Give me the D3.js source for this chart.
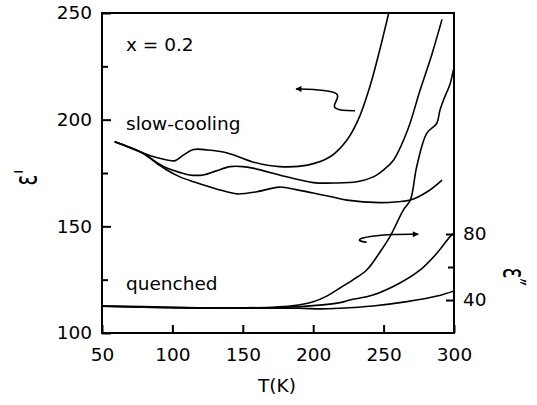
<!DOCTYPE html>
<meta charset="utf-8">
<script src="https://d3js.org/d3.v7.min.js"></script>
<body>
<div id="chart"></div>
<style>
 body { margin: 0; background: #fff; }
 text { font-family: "DejaVu Sans", sans-serif; fill: #000; }
</style>
<script>

// slow-cooled sample, three curves (T in K, eps')
var tempA = [59, 70, 79, 90, 97, 102, 108, 115, 125, 139, 157, 176, 196, 212, 224, 232, 240, 247, 254]
var epsA  = [189.7, 187, 184.4, 182, 181, 180.8, 183.5, 186, 185.8, 184.4, 180.2, 178, 178.7, 182.6, 190.5, 200, 215, 232, 251]

var tempB = [59, 70, 79, 90, 96, 105, 112, 122, 131, 141, 150, 157, 176, 190, 200, 215, 231, 243, 250, 257, 267, 276, 284, 291.5]
var epsB  = [189.7, 187, 184.4, 179.5, 177.3, 175.3, 174.1, 174.1, 176, 178, 178, 177.3, 174.1, 171.8, 170.5, 170.3, 170.9, 173.3, 176.5, 181, 195, 214, 230, 247]

var tempC = [59, 70, 79, 90, 96, 105, 115, 129, 140, 146, 160, 176, 188, 200, 212, 224, 247, 260, 269, 281, 291.5]
var epsC  = [189.7, 186.8, 184.2, 179, 176.4, 173.3, 170.9, 168, 166, 165.2, 166.2, 168.4, 167.2, 165.6, 164, 162.3, 161.1, 161.5, 162.3, 166.2, 171.7]

// quenched sample, three curves (T in K, eps'')
var tempQ1 = [50, 80, 110, 140, 170, 185, 200, 210, 219, 228, 238, 247, 254.5, 264, 269, 273.5, 280.6, 287.7, 290, 292.4, 297.2, 299.5]
var epsQ1  = [36.4, 36, 35.4, 35.2, 35.6, 36.5, 39, 42.5, 47.3, 52.1, 58.2, 68.5, 78.4, 94.5, 100.6, 120.8, 141, 147, 155, 161, 171, 179.4]

var tempQ2 = [50, 100, 150, 180, 200, 219, 226, 242.5, 261.6, 276, 288, 297.2, 300]
var epsQ2  = [36.2, 35.4, 35.1, 35.6, 36.6, 38.4, 40, 43, 50.3, 58.2, 68.5, 78.4, 80.5]

var tempQ3 = [50, 100, 150, 190, 205, 219, 242.5, 266.6, 288, 300]
var epsQ3  = [36.3, 35.3, 35, 35, 34.6, 35, 36.4, 39, 42.4, 45.5]

// ticks
var xTicks = [50, 100, 150, 200, 250, 300]
var yTicks = [100, 150, 200, 250]
var yMinor = [125, 175, 225]
var y2Ticks = [40, 80]
var y2Minor = [60]

// annotation arrows, in data units (T, eps')
var arrowLeftT = [229.7, 220.5, 214.1, 215.5, 219, 211.9, 194.2, 187.8]
var arrowLeftE = [204.2, 204.2, 205.5, 207.8, 212, 213.6, 214.4, 214.4]
var arrowRightT = [238, 232, 233.2, 242.7, 256.9, 270, 274.6]
var arrowRightE = [142.5, 143.1, 144.4, 145.5, 146.3, 146.3, 146.3]

var margin = {top: 13, right: 83, bottom: 72, left: 102},
    width = 537 - margin.left - margin.right,
    height = 405 - margin.top - margin.bottom;

var svg = d3.select("#chart")
  .append("svg")
    .attr("width", 537)
    .attr("height", 405)
  .append("g")
    .attr("transform", "translate(" + margin.left + "," + margin.top + ")")

var x = d3.scaleLinear().domain([50, 300]).range([0, width])
var y = d3.scaleLinear().domain([100, 250]).range([height, 0])
var y2 = d3.scaleLinear().domain([20, 214]).range([height, 0])

svg.append("clipPath").attr("id", "clip")
  .append("rect").attr("width", width).attr("height", height)

function zip(a, b) { return a.map(function(v, i) { return [v, b[i]] }) }

var line1 = d3.line().x(function(d) { return x(d[0]) }).y(function(d) { return y(d[1]) }).curve(d3.curveCatmullRom)
var line2 = d3.line().x(function(d) { return x(d[0]) }).y(function(d) { return y2(d[1]) }).curve(d3.curveCatmullRom)

var curves = svg.append("g").attr("clip-path", "url(#clip)")
  .attr("fill", "none").attr("stroke", "#000").attr("stroke-width", 1.6)

curves.append("path").attr("d", line1(zip(tempA, epsA)))
curves.append("path").attr("d", line1(zip(tempB, epsB)))
curves.append("path").attr("d", line1(zip(tempC, epsC)))
curves.append("path").attr("d", line2(zip(tempQ1, epsQ1)))
curves.append("path").attr("d", line2(zip(tempQ2, epsQ2)))
curves.append("path").attr("d", line2(zip(tempQ3, epsQ3)))

// arrow heads
svg.append("defs").append("marker")
    .attr("id", "head")
    .attr("viewBox", "0 0 10 10")
    .attr("refX", 9).attr("refY", 5)
    .attr("markerWidth", 10).attr("markerHeight", 6)
    .attr("markerUnits", "userSpaceOnUse")
    .attr("orient", "auto")
  .append("path").attr("d", "M0,0L10,5L0,10z").attr("fill", "#000")

var arrowLine = d3.line().x(function(d) { return x(d[0]) }).y(function(d) { return y(d[1]) }).curve(d3.curveBasis)
svg.append("path").attr("d", arrowLine(zip(arrowLeftT, arrowLeftE)))
  .attr("fill", "none").attr("stroke", "#000").attr("stroke-width", 1.6).attr("marker-end", "url(#head)")
svg.append("path").attr("d", arrowLine(zip(arrowRightT, arrowRightE)))
  .attr("fill", "none").attr("stroke", "#000").attr("stroke-width", 1.6).attr("marker-end", "url(#head)")

// axes, ticks pointing inward
var xAxis = svg.append("g").attr("transform", "translate(0," + height + ")")
  .call(d3.axisBottom(x).tickValues(xTicks).tickSizeInner(-8).tickSizeOuter(0).tickPadding(10))
var yAxis = svg.append("g")
  .call(d3.axisLeft(y).tickValues(yTicks).tickSizeInner(-9).tickSizeOuter(0).tickPadding(10))
svg.append("g")
  .call(d3.axisLeft(y).tickValues(yMinor).tickSizeInner(-6).tickSizeOuter(0).tickFormat(""))
var y2Axis = svg.append("g").attr("transform", "translate(" + width + ",0)")
  .call(d3.axisRight(y2).tickValues(y2Ticks).tickSizeInner(-8).tickSizeOuter(0).tickPadding(9))
svg.append("g").attr("transform", "translate(" + width + ",0)")
  .call(d3.axisRight(y2).tickValues(y2Minor).tickSizeInner(-6).tickSizeOuter(0).tickFormat(""))

svg.selectAll(".domain").remove()
svg.selectAll(".tick line").attr("stroke", "#000").attr("stroke-width", 2)
svg.selectAll(".tick text")
  .style("font-family", "DejaVu Sans, sans-serif").style("font-size", "18.5px").attr("fill", "#000")
xAxis.selectAll(".tick text").attr("dy", "0.95em")

// frame
svg.append("rect").attr("width", width).attr("height", height)
  .attr("fill", "none").attr("stroke", "#000").attr("stroke-width", 2)

// labels
svg.append("text").attr("x", width / 2 - 1).attr("y", height + 59)
  .attr("text-anchor", "middle").style("font-size", "18.5px").text("T(K)")
svg.append("text").attr("transform", "translate(-65," + y(173) + ") scale(1.6,1) rotate(-90)")
  .attr("text-anchor", "middle").style("font-size", "20px").text("ε'")
svg.append("text").attr("transform", "translate(" + (width + 49) + "," + y2(54) + ") scale(1.6,1) rotate(90)")
  .attr("text-anchor", "middle").style("font-size", "20px").text("ε″")

svg.append("text").attr("x", 24).attr("y", 38).style("font-size", "18.5px").text("x = 0.2")
svg.append("text").attr("x", 24).attr("y", 117).style("font-size", "18.5px").text("slow-cooling")
svg.append("text").attr("x", 24).attr("y", 277).style("font-size", "18.5px").text("quenched")

</script>
</body>
